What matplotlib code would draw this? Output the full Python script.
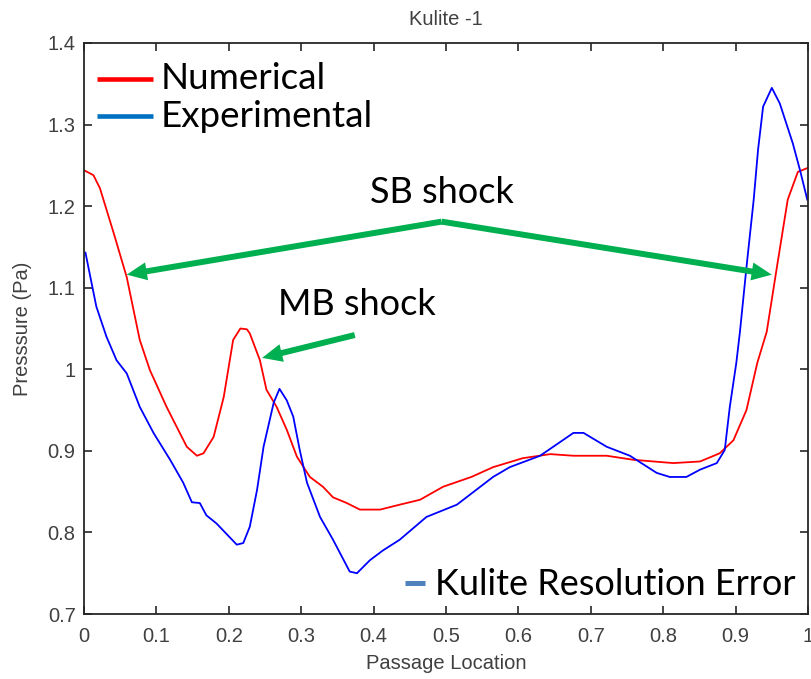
import matplotlib
matplotlib.use('Agg')
import matplotlib.pyplot as plt

# Numerical (CFD) pressure along the passage
x_num = [0.0, 0.013, 0.022, 0.041, 0.059, 0.077, 0.091, 0.114, 0.142, 0.156,
         0.165, 0.179, 0.193, 0.206, 0.216, 0.225, 0.229, 0.243, 0.252, 0.266,
         0.280, 0.294, 0.312, 0.330, 0.344, 0.363, 0.381, 0.409, 0.436, 0.464,
         0.496, 0.535, 0.565, 0.606, 0.644, 0.676, 0.722, 0.759, 0.814, 0.851,
         0.878, 0.897, 0.915, 0.930, 0.943, 0.957, 0.972, 0.986, 1.0]
y_num = [1.244, 1.238, 1.222, 1.167, 1.113, 1.036, 0.999, 0.954, 0.905, 0.894,
         0.897, 0.917, 0.966, 1.036, 1.050, 1.049, 1.044, 1.011, 0.975, 0.954,
         0.926, 0.893, 0.868, 0.856, 0.843, 0.836, 0.828, 0.828, 0.834, 0.840,
         0.856, 0.868, 0.880, 0.891, 0.896, 0.894, 0.894, 0.889, 0.885, 0.887,
         0.897, 0.913, 0.950, 1.008, 1.046, 1.125, 1.208, 1.242, 1.247]

# Experimental (Kulite) pressure
x_exp = [0.002, 0.017, 0.031, 0.045, 0.059, 0.077, 0.096, 0.119, 0.137, 0.149,
         0.160, 0.169, 0.183, 0.211, 0.220, 0.229, 0.239, 0.248, 0.262, 0.270,
         0.280, 0.289, 0.298, 0.308, 0.326, 0.344, 0.367, 0.377, 0.395, 0.413,
         0.436, 0.473, 0.515, 0.565, 0.588, 0.630, 0.676, 0.690, 0.722, 0.754,
         0.791, 0.809, 0.832, 0.851, 0.874, 0.885, 0.892, 0.901, 0.906, 0.915,
         0.925, 0.931, 0.938, 0.950, 0.961, 0.979, 0.989, 0.999]
y_exp = [1.143, 1.077, 1.040, 1.011, 0.995, 0.954, 0.922, 0.889, 0.861, 0.837,
         0.836, 0.821, 0.811, 0.785, 0.787, 0.807, 0.852, 0.905, 0.959, 0.976,
         0.962, 0.942, 0.901, 0.861, 0.819, 0.791, 0.752, 0.750, 0.766, 0.778,
         0.791, 0.819, 0.834, 0.868, 0.880, 0.894, 0.922, 0.922, 0.905, 0.894,
         0.873, 0.868, 0.868, 0.877, 0.885, 0.901, 0.954, 1.008, 1.046, 1.125,
         1.208, 1.269, 1.322, 1.345, 1.326, 1.277, 1.244, 1.208]

x_ticks = [0, 0.1, 0.2, 0.3, 0.4, 0.5, 0.6, 0.7, 0.8, 0.9, 1]
x_tick_labels = ['0', '0.1', '0.2', '0.3', '0.4', '0.5', '0.6', '0.7', '0.8', '0.9', '1']
y_ticks = [0.7, 0.8, 0.9, 1.0, 1.1, 1.2, 1.3, 1.4]
y_tick_labels = ['0.7', '0.8', '0.9', '1', '1.1', '1.2', '1.3', '1.4']

GREEN = '#00B050'
MFONT = 'Liberation Sans'
BIG = 'Lato'
GREY = '#404040'

fig = plt.figure(figsize=(8.12, 6.79), dpi=100)
ax = fig.add_axes([84 / 812, 1 - 614 / 679, 724 / 812, 571 / 679])

ax.plot(x_num, y_num, color='#FF0000', lw=1.3)
ax.plot(x_exp, y_exp, color='#0000FF', lw=1.3)

ax.set_xlim(0, 1)
ax.set_ylim(0.7, 1.4)
ax.set_xticks(x_ticks)
ax.set_xticklabels(x_tick_labels, fontfamily=MFONT, fontsize=14.5, color=GREY)
ax.set_yticks(y_ticks)
ax.set_yticklabels(y_tick_labels, fontfamily=MFONT, fontsize=14.5, color=GREY)
ax.tick_params(direction='in', length=6, width=1.2, top=True, right=True,
               color='#262626', pad=6)
ax.tick_params(axis='x', pad=9)
for s in ax.spines.values():
    s.set_color('#262626')
    s.set_linewidth(1.3)

ax.set_title('Kulite -1', fontfamily=MFONT, fontsize=14.5, color=GREY, pad=13)
ax.set_xlabel('Passage Location', fontfamily=MFONT, fontsize=14.5, color=GREY, labelpad=6)
ax.set_ylabel('Presssure (Pa)', fontfamily=MFONT, fontsize=14.5, color=GREY, labelpad=11)

# hand-drawn style legend
ax.plot([0.018, 0.095], [1.356, 1.356], color='#FF0000', lw=3.3, solid_capstyle='butt')
ax.plot([0.018, 0.095], [1.3105, 1.3105], color='#0070C0', lw=3.3, solid_capstyle='butt')
ax.text(0.106, 1.344, 'Numerical', fontfamily=BIG, fontsize=26.5, va='baseline')
ax.text(0.106, 1.297, 'Experimental', fontfamily=BIG, fontsize=26.5, va='baseline')

# shock annotations
arrow = 'simple,head_width=1.3,head_length=1.45,tail_width=0.43'
ax.text(0.395, 1.204, 'SB shock', fontfamily=BIG, fontsize=26, va='baseline')
for tip in [(0.059, 1.116), (0.950, 1.116)]:
    ax.annotate('', xy=tip, xytext=(0.494, 1.181),
                arrowprops=dict(arrowstyle=arrow, mutation_scale=10, color=GREEN,
                                lw=0, shrinkA=0, shrinkB=0))
ax.text(0.268, 1.067, 'MB shock', fontfamily=BIG, fontsize=26, va='baseline')
ax.annotate('', xy=(0.246, 1.014), xytext=(0.374, 1.042),
            arrowprops=dict(arrowstyle=arrow, mutation_scale=10, color=GREEN,
                            lw=0, shrinkA=0, shrinkB=0))

ax.plot([0.443, 0.471], [0.738, 0.738], color='#4F81BD', lw=3.6, solid_capstyle='butt')
ax.text(0.485, 0.723, 'Kulite Resolution Error', fontfamily=BIG, fontsize=26, va='baseline')

plt.savefig('out.png', dpi=100)
